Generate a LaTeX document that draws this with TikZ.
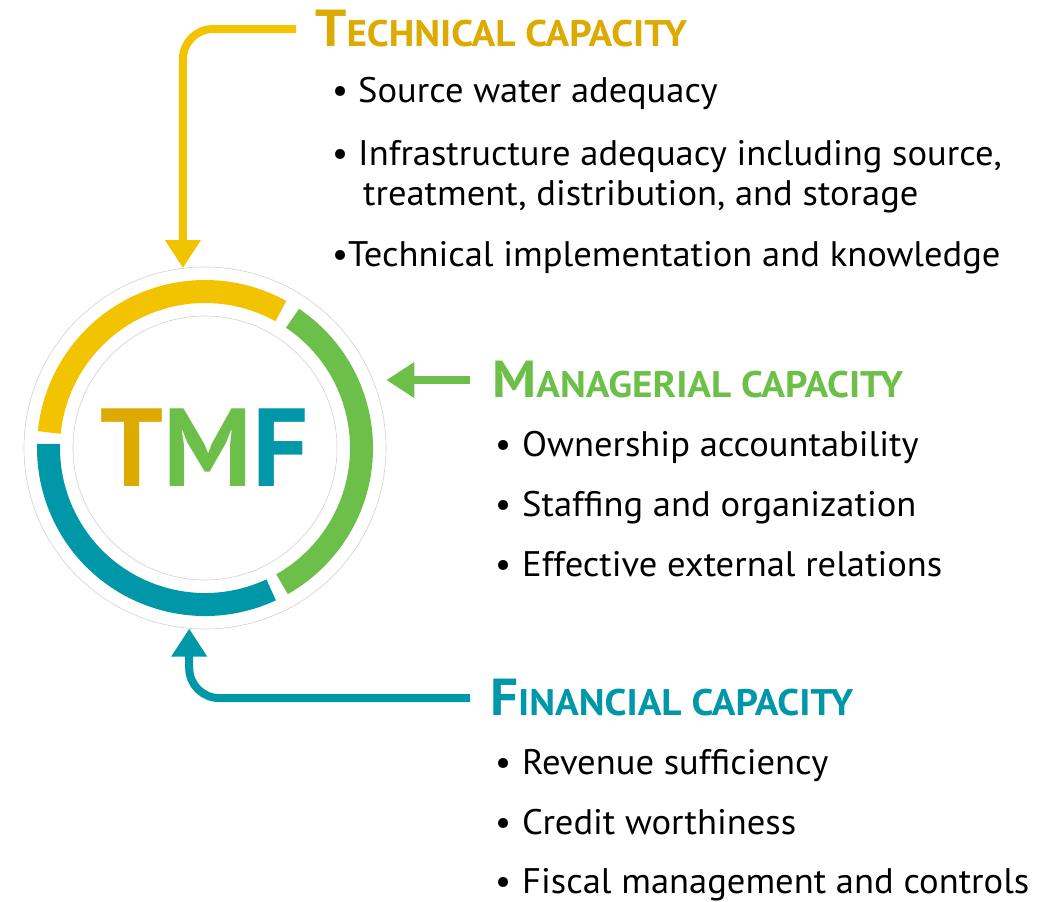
\documentclass[tikz,border=0pt]{standalone}
\usepackage{fontspec}
\setmainfont{PT Sans}
\usetikzlibrary{arrows.meta,positioning}

\definecolor{ringyellow}{HTML}{F2C300}
\definecolor{techgold}{HTML}{DCAA00}
\definecolor{mangreen}{HTML}{6CC04A}
\definecolor{finteal}{HTML}{0097A9}

% heading in small capitals: big first letter, smaller rest
\newcommand{\headcaps}[2]{\scalebox{1.06}[1]{{\fontsize{52}{52}\selectfont #1}{\fontsize{37}{37}\selectfont #2}}}
\newcommand{\wide}[1]{\scalebox{1.03}[1]{#1}}
\newcommand{\itm}[2][26pt]{\makebox[#1][l]{\textbullet}\wide{#2}}

\begin{document}
\begin{tikzpicture}[x=1pt,y=1pt,
    heading/.style={anchor=base west, inner sep=0pt, font=\bfseries},
    item/.style={anchor=base west, inner sep=0pt, font=\fontsize{35.5}{40}\selectfont},
    ringpart/.style={line width=23pt},
    capline/.style={line width=8pt, rounded corners=30pt, -{Triangle[width=34pt,length=28pt]}}]

\useasboundingbox (0,0) rectangle (1048,901);

% the TMF ring
\node[circle, draw=black!18, line width=0.6pt, minimum size=362pt, inner sep=0pt,
      font=\bfseries\fontsize{111}{111}\selectfont] (tmf) at (205,453)
      {\textcolor{techgold}{T}\textcolor{mangreen}{M}\textcolor{finteal}{F}};
\draw[black!18, line width=0.6pt] (tmf.center) circle[radius=132];
\draw[ringpart, ringyellow] (tmf.center) ++(174.3:156.5) arc[start angle=174.3, end angle=61, radius=156.5];
\draw[ringpart, mangreen] (tmf.center) ++(56:156.5) arc[start angle=56, end angle=-60.5, radius=156.5];
\draw[ringpart, finteal] (tmf.center) ++(-65:156.5) arc[start angle=-65, end angle=-181.5, radius=156.5];

% technical
\node[heading, text=techgold] (tech) at (315,854) {\headcaps{T}{ECHNICAL CAPACITY}};
\node[item] (tech1) at (332,798) {\itm{Source water adequacy}};
\node[item] (tech2) at (332,735) {\itm{Infrastructure adequacy including source,}};
\node[item] (tech2b) at (363,695) {\wide{treatment, distribution, and storage}};
\node[item] (tech3) at (332,634) {\itm[16pt]{Technical implementation and knowledge}};

% managerial
\node[heading, text=mangreen] (man) at (492,503) {\headcaps{M}{ANAGERIAL CAPACITY}};
\node[item] (man1) at (495,444) {\itm[27pt]{Ownership accountability}};
\node[item] (man2) at (495,384) {\itm[27pt]{Staffing and organization}};
\node[item] (man3) at (495,324) {\itm[27pt]{Effective external relations}};

% financial
\node[heading, text=finteal] (fin) at (490,185) {\headcaps{F}{INANCIAL CAPACITY}};
\node[item] (fin1) at (495,126) {\itm[27pt]{Revenue sufficiency}};
\node[item] (fin2) at (495,66) {\itm[27pt]{Credit worthiness}};
\node[item] (fin3) at (495,8) {\itm[27pt]{Fiscal management and controls}};

% arrows into the ring
\draw[capline, ringyellow, shorten <=19pt] (tech.west) -| (tmf.97.5);
\draw[capline, mangreen, shorten <=22pt] (man.west) -- (man.west -| tmf.east);
\draw[capline, finteal, shorten <=20pt] (fin.west) -| (tmf.265.6);
\end{tikzpicture}
\end{document}
